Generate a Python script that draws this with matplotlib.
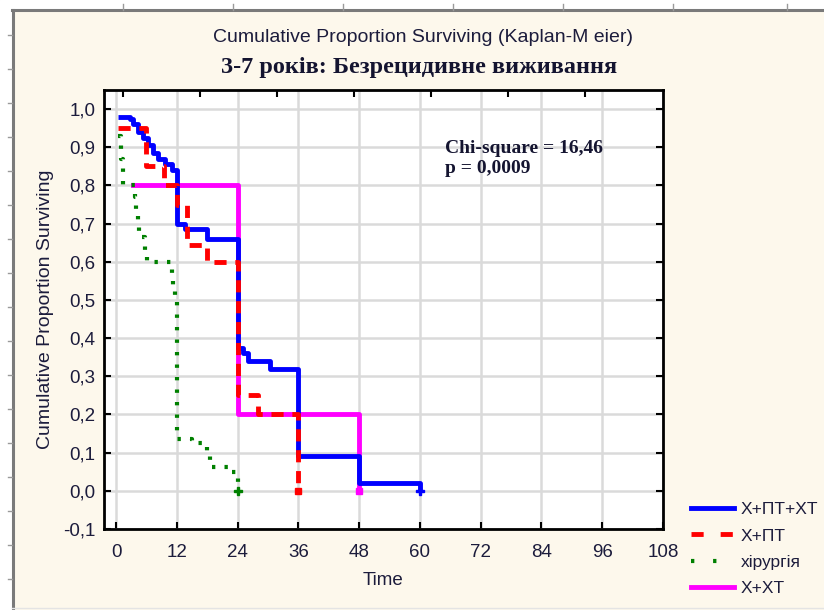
import matplotlib
matplotlib.use("Agg")
import matplotlib.pyplot as plt
from matplotlib.lines import Line2D
import numpy as np

# ---- data ----
blue_t = [0.3, 2.8, 3.4, 4.3, 5.3, 6.3, 7.3, 8.3, 9.7, 11.0, 12.0, 13.6, 18.0, 24.0, 25.0, 26.0, 30.4, 36.0, 48.0, 60.0]
blue_s = [0.98, 0.975, 0.96, 0.94, 0.925, 0.905, 0.885, 0.87, 0.855, 0.84, 0.70, 0.685, 0.66, 0.375, 0.36, 0.34, 0.32, 0.09, 0.02, 0.0]

red_t = [0.3, 5.8, 9.5, 12.0, 14.0, 18.0, 24.0, 28.0, 36.0]
red_s = [0.95, 0.85, 0.80, 0.75, 0.645, 0.60, 0.25, 0.20, 0.0]

green_t = [0.3, 1.0, 1.3, 3.8, 4.0, 4.3, 4.5, 5.7, 6.0, 11.0, 11.3, 11.6, 12.0, 15.0, 18.0, 18.5, 22.0, 24.0]
green_s = [0.93, 0.87, 0.80, 0.77, 0.73, 0.70, 0.665, 0.63, 0.60, 0.57, 0.53, 0.50, 0.135, 0.125, 0.09, 0.063, 0.05, 0.0]

mag_t = [3.4, 24.0, 48.0]
mag_s = [0.80, 0.20, 0.0]

series_names = ["Х+ПТ+ХТ", "Х+ПТ", "хірургія", "Х+ХТ"]

x_ticks = [0, 12, 24, 36, 48, 60, 72, 84, 96, 108]
y_ticks = [-0.1, 0.0, 0.1, 0.2, 0.3, 0.4, 0.5, 0.6, 0.7, 0.8, 0.9, 1.0]

title1 = "Cumulative Proportion Surviving (Kaplan-M eier)"
title2 = "3-7 років: Безрецидивне виживання"
stat_text = "Chi-square = 16,46\np = 0,0009"

# ---- figure ----
W, H = 824, 610
fig = plt.figure(figsize=(W / 100, H / 100), dpi=100)
fig.patch.set_facecolor("#FDF8EC")

# outer white margin + ruler-like border
fig.add_artist(plt.Rectangle((0, 1 - 9 / H), 1, 9 / H, transform=fig.transFigure, color="white", zorder=0))
fig.add_artist(plt.Rectangle((0, 0), 12 / W, 1, transform=fig.transFigure, color="white", zorder=0))
fig.add_artist(Line2D([12 / W, 1], [1 - 10 / H, 1 - 10 / H], transform=fig.transFigure, color="#7a7a7a", lw=2.2))
fig.add_artist(Line2D([13 / W, 13 / W], [0, 1 - 10 / H], transform=fig.transFigure, color="#7a7a7a", lw=2.2))
fig.add_artist(Line2D([12 / W, 1], [2 / H, 2 / H], transform=fig.transFigure, color="#e4e4e4", lw=1))
for xp in [123, 233, 343, 453, 563, 673, 787]:
    fig.add_artist(Line2D([xp / W, xp / W], [1 - 10 / H, 1 - 4 / H], transform=fig.transFigure, color="#9a9a9a", lw=1))
for yp in range(35, 600, 34):
    fig.add_artist(Line2D([8 / W, 12 / W], [1 - yp / H, 1 - yp / H], transform=fig.transFigure, color="#9a9a9a", lw=1))

ax = fig.add_axes([104 / W, 1 - 529 / H, (663 - 104) / W, (529 - 90) / H])
ax.set_facecolor("white")
ax.set_xlim(-2.4, 108)
ax.set_ylim(-0.1, 1.05)

txt_color = "#1c1c3c"
sans_size = 13.5

ax.set_xticks(x_ticks)
ax.set_xticklabels([str(v) for v in x_ticks])
ax.set_yticks(y_ticks)
ax.set_yticklabels([f"{v:.1f}".replace(".", ",") for v in y_ticks])
ax.tick_params(axis="both", direction="in", length=5, width=1.5, colors="black",
               labelcolor=txt_color, labelsize=sans_size, right=True, pad=6)
ax.tick_params(axis="x", pad=11)
for tl in ax.get_xticklabels() + ax.get_yticklabels():
    tl.set_family("Liberation Sans")

ax.grid(True, color="#dadada", lw=1.8)
ax.set_axisbelow(True)
for sp in ax.spines.values():
    sp.set_linewidth(2)
    sp.set_color("black")

# top ticks (offset scale, as in the reference)
sec = ax.secondary_xaxis("top")
sec.set_xticks(np.arange(1.4, 100, 15.2))
sec.set_xticklabels([])
sec.tick_params(direction="in", length=5, width=1.5)

# curves
ax.step(blue_t, blue_s, where="post", color="#0000FF", lw=3.5, solid_capstyle="butt", zorder=4)
ax.step(red_t, red_s, where="post", color="#FF0000", lw=3.5, linestyle=(0, (2.5, 1.8)), zorder=5)
ax.step(green_t, green_s, where="post", color="#008000", lw=3, linestyle=(0, (0.8, 2.2)), zorder=5)
ax.step(mag_t, mag_s, where="post", color="#FF00FF", lw=3.5, zorder=3)

# censor-like end markers
ax.plot([blue_t[-1]], [blue_s[-1]], marker="P", color="#0000FF", ms=6, zorder=6)
ax.plot([green_t[-1]], [green_s[-1]], marker="P", color="#008000", ms=6, zorder=6)
ax.plot([red_t[-1]], [red_s[-1]], marker="s", color="#FF0000", ms=5, zorder=6)
ax.plot([mag_t[-1]], [mag_s[-1]], marker="s", color="#FF00FF", ms=4, zorder=6)

ax.text(65, 0.87, stat_text, family="Liberation Serif", fontweight="bold", fontsize=14,
        color="#141430", va="center", ha="left", linespacing=1.25)

ax.set_xlabel("Time", family="Liberation Sans", fontsize=sans_size, color=txt_color, labelpad=8)
ax.set_ylabel("Cumulative Proportion Surviving", family="Liberation Sans", fontsize=14,
              color=txt_color, labelpad=7)

fig.text(423 / W, 1 - 37 / H, title1, family="Liberation Sans", fontsize=14,
         color=txt_color, ha="center", va="center")
fig.text(419 / W, 1 - 67 / H, title2, family="Liberation Serif", fontweight="bold",
         fontsize=17.5, color="#141430", ha="center", va="center")

handles = [
    Line2D([], [], color="#0000FF", lw=3.5),
    Line2D([], [], color="#FF0000", lw=3.5, linestyle=(0, (2.5, 3.5))),
    Line2D([], [], color="#008000", lw=3, linestyle=(0, (0.8, 4.5))),
    Line2D([], [], color="#FF00FF", lw=3.5),
]
leg = fig.legend(handles, series_names, loc="upper left", bbox_to_anchor=(684 / W, 1 - 495 / H),
                 frameon=False, prop={"family": "Liberation Sans", "size": 12.5},
                 handlelength=2.5, handletextpad=0.35, labelspacing=0.65, borderaxespad=0)
for t in leg.get_texts():
    t.set_color(txt_color)

fig.savefig("out.png", dpi=100, facecolor=fig.get_facecolor())
